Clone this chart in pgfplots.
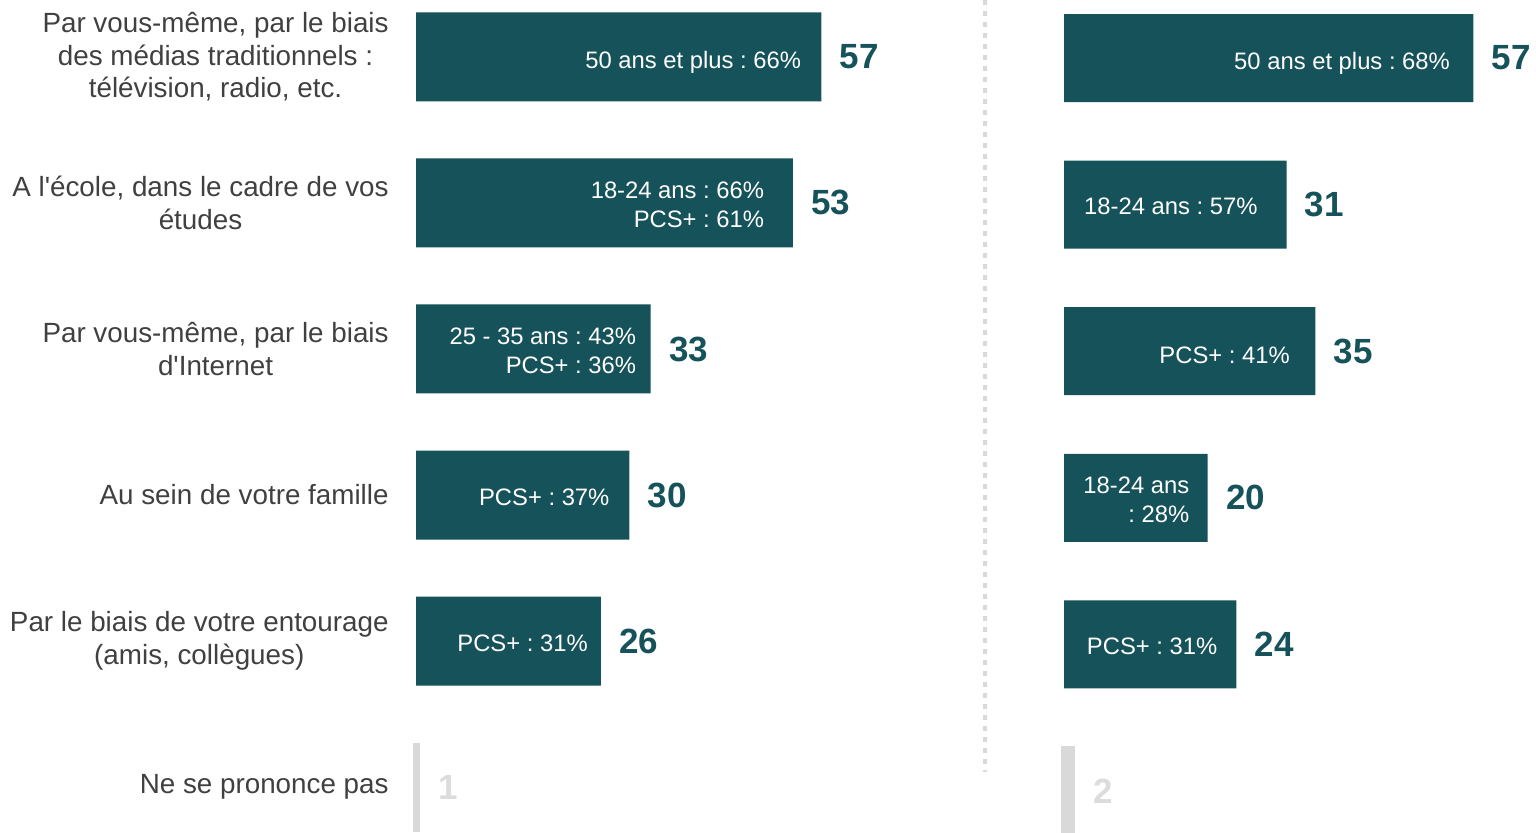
\documentclass[border=0pt]{standalone}
\usepackage{pgfplots}
\pgfplotsset{compat=1.18}
\usepackage{fontspec}
\setmainfont{Liberation Sans}
\frenchspacing
\definecolor{teal1}{HTML}{165259}
\definecolor{lgrey}{HTML}{D9D9D9}
\definecolor{ngrey}{HTML}{DCDCDC}
\definecolor{labgrey}{HTML}{404040}
\tikzset{inlab/.style={anchor=east, align=right, text=white, inner sep=0pt, yshift=-1pt, font=\fontsize{11.9}{14.5}\selectfont}}
\begin{document}
\begin{tikzpicture}
\pgfplotsset{
 common/.style={
  scale only axis, clip=false, y dir=reverse, height=416pt,
  xmin=0, axis line style={draw=none}, xtick=\empty, major tick length=0pt,
  /pgf/number format/assume math mode=true,
  nodes near coords, point meta=x,
  nodes near coords style={anchor=west, inner sep=0pt, xshift=9pt, font=\fontsize{17.5}{20}\selectfont\bfseries},
 },
}
\begin{axis}[common, at={(208pt,0pt)}, anchor=south west, width=284.5pt, xmax=80,
  ymin=-0.39, ymax=5.308,
  ytick={0,...,5},
  yticklabels={{Par vous-même, par le biais\\des médias traditionnels :\\télévision, radio, etc.},
    {A l\textquotesingle école, dans le cadre de vos\\études},
    {Par vous-même, par le biais\\d\textquotesingle Internet},
    {Au sein de votre famille},
    {Par le biais de votre entourage\\(amis, collègues)},
    {Ne se prononce pas}},
  yticklabel style={align=center, inner sep=0pt, xshift=-13.5pt, text=labgrey, font=\fontsize{13.9}{16.25}\selectfont},
]
\addplot[xbar, bar width=44.5pt, bar shift=0pt, fill=teal1, draw=none, nodes near coords style={text=teal1}]
  coordinates {(57,0) (53,1) (33,2) (30,3) (26,4)};
\addplot[xbar, bar width=44.5pt, bar shift=0pt, fill=lgrey, draw=none, xshift=-1.5pt, nodes near coords style={text=ngrey}]
  coordinates {(1,5)};
\node[inlab, yshift=-1.5pt] at (axis cs:54.2,0) {50 ans et plus : 66\%};
\node[inlab] at (axis cs:49.0,1) {18-24 ans : 66\%\\PCS+ : 61\%};
\node[inlab] at (axis cs:31.0,2) {25 - 35 ans : 43\%\\PCS+ : 36\%};
\node[inlab] at (axis cs:27.25,3) {PCS+ : 37\%};
\node[inlab] at (axis cs:24.2,4) {PCS+ : 31\%};
\end{axis}
\begin{axis}[common, at={(532pt,0pt)}, anchor=south west, width=236pt, xmax=65.74,
  ymin=-0.396, ymax=5.28, ytick=\empty]
\addplot[xbar, bar width=44pt, bar shift=0pt, fill=teal1, draw=none, nodes near coords style={text=teal1}]
  coordinates {(57,0) (31,1) (35,2) (20,3) (24,4)};
\addplot[xbar, bar width=44.5pt, bar shift=0pt, fill=lgrey, draw=none, xshift=-1.5pt, nodes near coords style={text=ngrey}]
  coordinates {(2,5)};
\node[inlab, yshift=-1.5pt] at (axis cs:53.8,0) {50 ans et plus : 68\%};
\node[inlab] at (axis cs:27.0,1) {18-24 ans : 57\%};
\node[inlab, yshift=-1pt] at (axis cs:31.5,2) {PCS+ : 41\%};
\node[inlab] at (axis cs:17.5,3) {18-24 ans\\: 28\%};
\node[inlab] at (axis cs:21.4,4) {PCS+ : 31\%};
\end{axis}
\draw[lgrey, line width=2.3pt, dash pattern=on 2.3pt off 3.2pt] (492.5pt,416pt) -- (492.5pt,30pt);
\pgfresetboundingbox
\path[use as bounding box] (0pt,0pt) rectangle (768pt,416pt);
\end{tikzpicture}
\end{document}
